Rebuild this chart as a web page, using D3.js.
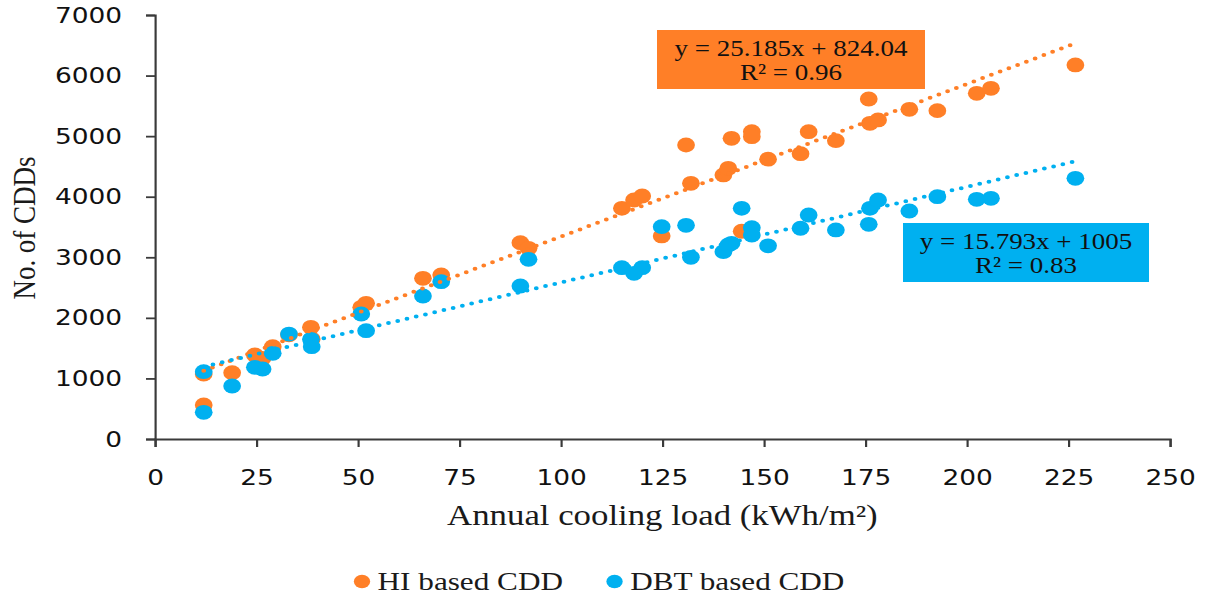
<!DOCTYPE html>
<html>
<head>
<meta charset="utf-8">
<script src="https://cdn.jsdelivr.net/npm/d3@7"></script>
<style>
  body { margin: 0; background: #fff; }
</style>
</head>
<body>
<svg id="chart"></svg>
<script>
// annual cooling load of each case (kWh/m2), with the CDDs found by the two methods
var loads  = [12, 12, 19, 24.6, 26.5, 29, 33, 38.4, 38.6, 50.8, 52, 66, 70.5, 90, 92, 115, 118, 120, 124.8, 130.8, 132, 140, 141.2, 142, 144.5, 147, 147, 151, 159, 161, 167.7, 175.8, 176.1, 178.1, 185.8, 192.7, 202.4, 205.9, 226.7]
var hiCDD  = [1073, 561, 1095, 1387, 1332, 1524, 1720, 1844, 1650, 2174, 2240, 2653, 2708, 3241, 3148, 3809, 3946, 4012, 3352, 4854, 4221, 4359, 4469, 4964, 3430, 5074, 4991, 4620, 4710, 5074, 4925, 5613, 5212, 5267, 5443, 5421, 5707, 5790, 6175]
var dbtCDD = [1111, 440, 875, 1183, 1156, 1415, 1733, 1646, 1524, 2064, 1788, 2361, 2597, 2526, 2967, 2828, 2735, 2828, 3505, 3528, 3000, 3092, 3203, 3230, 3809, 3489, 3368, 3190, 3479, 3698, 3451, 3544, 3809, 3946, 3764, 4000, 3957, 3974, 4304]

var xTicks = [0, 25, 50, 75, 100, 125, 150, 175, 200, 225, 250]
var yTicks = [0, 1000, 2000, 3000, 4000, 5000, 6000, 7000]

var seriesNames = ["HI based CDD", "DBT based CDD"]
var slopes = [25.185, 15.793]
var intercepts = [824.04, 1005]
var rSquared = ["0.96", "0.83"]
var colors = ["#ff7f27", "#00b0f0"]

var W = 1207, H = 598
// the picture is stretched sideways, so draw in narrower units and let the viewBox widen it
var sx = 1.2
var vw = W / sx

var svg = d3.select("#chart")
    .attr("width", W).attr("height", H)
    .attr("viewBox", "0 0 " + vw + " " + H)
    .attr("preserveAspectRatio", "none")

var scaleX = d3.scaleLinear().domain([0, 250]).range([155 / sx, 1170 / sx])
var scaleY = d3.scaleLinear().domain([0, 7000]).range([439, 15])

var axisX = d3.axisBottom(scaleX).tickValues(xTicks).tickFormat(d3.format("d"))
                .tickSize(8).tickPadding(22)
var axisY = d3.axisLeft(scaleY).tickValues(yTicks).tickFormat(d3.format("d"))
                .tickSize(7.5).tickPadding(20)

var gx = svg.append("g").attr("transform", "translate(0," + scaleY(0) + ")").call(axisX)
var gy = svg.append("g").attr("transform", "translate(" + scaleX(0) + ",0)").call(axisY)

;[gx, gy].forEach(g => {
    g.attr("font-family", "'DejaVu Sans', sans-serif").attr("font-size", 22)
    g.selectAll("path, line").attr("stroke", "#3a3a3a").attr("stroke-width", 1.8)
    g.selectAll("text").attr("fill", "#111")
})

// axis titles
svg.append("text")
    .attr("x", 552).attr("y", 525)
    .attr("text-anchor", "middle")
    .attr("font-family", "'Liberation Serif', 'Times New Roman', serif")
    .attr("font-size", 29).attr("fill", "#1a1a1a")
    .text("Annual cooling load (kWh/m²)")

svg.append("text")
    .attr("transform", "translate(29,228) rotate(-90)")
    .attr("text-anchor", "middle")
    .attr("font-family", "'Liberation Serif', 'Times New Roman', serif")
    .attr("font-size", 27).attr("fill", "#1a1a1a")
    .text("No. of CDDs")

// points, HI first so the DBT ones sit on top
var points = loads.map((x, i) => ({x: x, hi: hiCDD[i], dbt: dbtCDD[i]}))

svg.append("g").selectAll("circle")
    .data(points).enter()
    .append("circle")
    .attr("cx", d => scaleX(d.x))
    .attr("cy", d => scaleY(d.hi))
    .attr("r", 7.4)
    .attr("fill", colors[0])

svg.append("g").selectAll("circle")
    .data(points).enter()
    .append("circle")
    .attr("cx", d => scaleX(d.x))
    .attr("cy", d => scaleY(d.dbt))
    .attr("r", 7.4)
    .attr("fill", colors[1])

// linear trend lines over the range of the loads
var ext = d3.extent(loads)
var line = d3.line().x(d => scaleX(d[0])).y(d => scaleY(d[1]))

slopes.forEach((m, i) => {
    svg.append("path")
        .datum(ext.map(x => [x, m * x + intercepts[i]]))
        .attr("d", line)
        .attr("fill", "none")
        .attr("stroke", colors[i])
        .attr("stroke-width", 4)
        .attr("stroke-linecap", "round")
        .attr("stroke-dasharray", "0 8")
})

// equation labels (boxes in screen pixels)
var labelBoxes = [
    {x0: 657, x1: 925, y0: 30, y1: 89},
    {x0: 903, x1: 1149, y0: 223, y1: 282}
]

labelBoxes.forEach((b, i) => {
    var g = svg.append("g")
    g.append("rect")
        .attr("x", b.x0 / sx).attr("y", b.y0)
        .attr("width", (b.x1 - b.x0) / sx).attr("height", b.y1 - b.y0)
        .attr("fill", colors[i])
    var cx = (b.x0 + b.x1) / 2 / sx
    var lines = ["y = " + slopes[i] + "x + " + intercepts[i], "R² = " + rSquared[i]]
    lines.forEach((s, k) => {
        g.append("text")
            .attr("x", cx).attr("y", b.y0 + 26 + k * 24.5)
            .attr("text-anchor", "middle")
            .attr("font-family", "'Liberation Serif', 'Times New Roman', serif")
            .attr("font-size", 22.5).attr("fill", "#111")
            .text(s)
    })
})

// legend
var legend = svg.append("g")
var lx = 362 / sx
seriesNames.forEach((name, i) => {
    legend.append("circle")
        .attr("cx", lx).attr("cy", 581.5).attr("r", 6.8)
        .attr("fill", colors[i])
    var txt = legend.append("text")
        .attr("x", lx + 13).attr("y", 590)
        .attr("font-family", "'Liberation Serif', 'Times New Roman', serif")
        .attr("font-size", 26).attr("fill", "#1a1a1a")
        .text(name)
    lx = lx + 13 + txt.node().getComputedTextLength() + 43
})
</script>
</body>
</html>
